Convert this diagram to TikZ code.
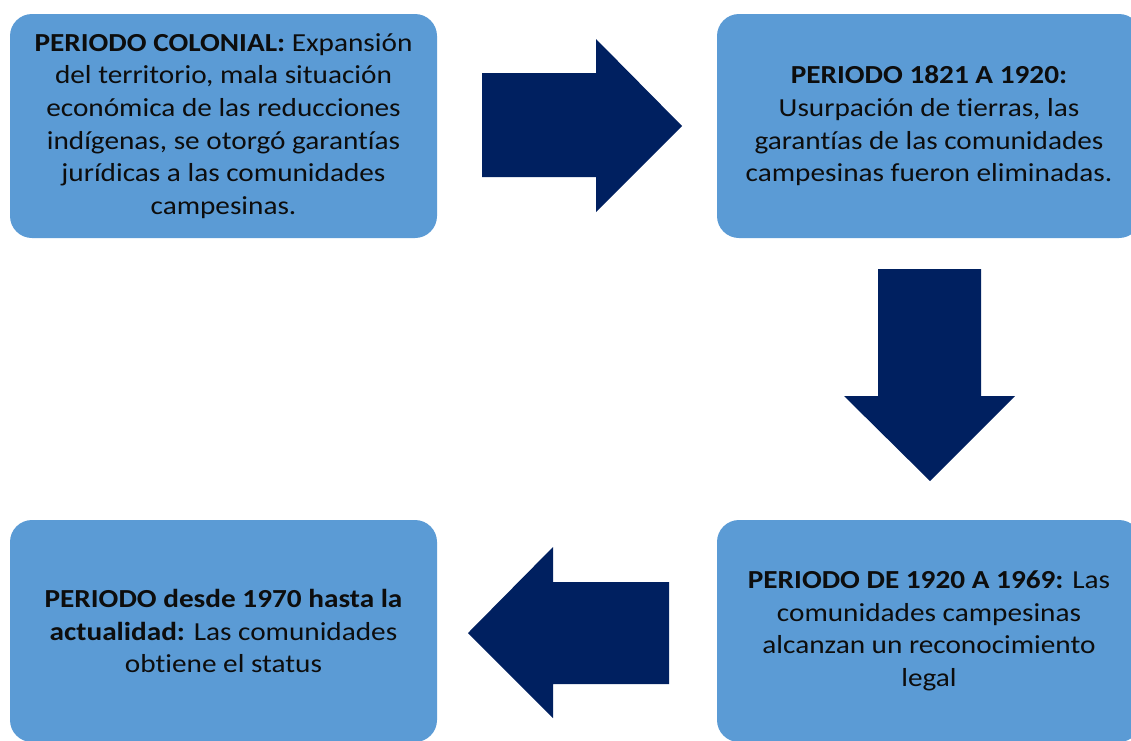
\documentclass[tikz,border=0pt]{standalone}
\usepackage{fontspec}
\setmainfont{Carlito}[FakeStretch=1.125, Ligatures={NoCommon}]
\definecolor{boxblue}{HTML}{5B9BD5}
\definecolor{navy}{HTML}{002060}
\definecolor{txt}{HTML}{0D0D0D}
\begin{document}
\begin{tikzpicture}[x=1pt,y=-1pt,
  period/.style={rectangle, rounded corners=22pt, fill=boxblue, draw=none,
    align=center, text=txt, inner sep=0pt,
    font=\fontsize{26}{32.6}\selectfont},
  blockarrow/.style={fill=navy, draw=none}]
\useasboundingbox (0,0) rectangle (1131,740);
\node[period, minimum width=427pt, minimum height=224pt] (a) at (223.5,126)
  {\textbf{PERIODO COLONIAL:} Expansión\\del territorio, mala situación\\económica de las reducciones\\indígenas, se otorgó garantías\\jurídicas a las comunidades\\campesinas.};
\node[period, minimum width=424pt, minimum height=224pt] (b) at (929,126)
  {\textbf{PERIODO 1821 A 1920:}\\Usurpación de tierras, las\\garantías de las comunidades\\campesinas fueron eliminadas.};
\node[period, minimum width=424pt, minimum height=222pt] (c) at (929,631)
  {\textbf{PERIODO DE 1920 A 1969:} Las\\comunidades campesinas\\alcanzan un reconocimiento\\legal};
\node[period, minimum width=427pt, minimum height=222pt] (d) at (223.5,631)
  {\textbf{PERIODO desde 1970 hasta la}\\\textbf{actualidad:} Las comunidades\\obtiene el status};
% block arrows
\fill[blockarrow] (482,73) -- (596,73) -- (596,39) -- (682,126) -- (596,212) -- (596,177) -- (482,177) -- cycle;
\fill[blockarrow] (878,269) -- (981,269) -- (981,396) -- (1015,396) -- (930,481) -- (844,396) -- (878,396) -- cycle;
\fill[blockarrow] (669,582) -- (553,582) -- (553,547) -- (468,633) -- (553,718) -- (553,684) -- (669,684) -- cycle;
\end{tikzpicture}
\end{document}
